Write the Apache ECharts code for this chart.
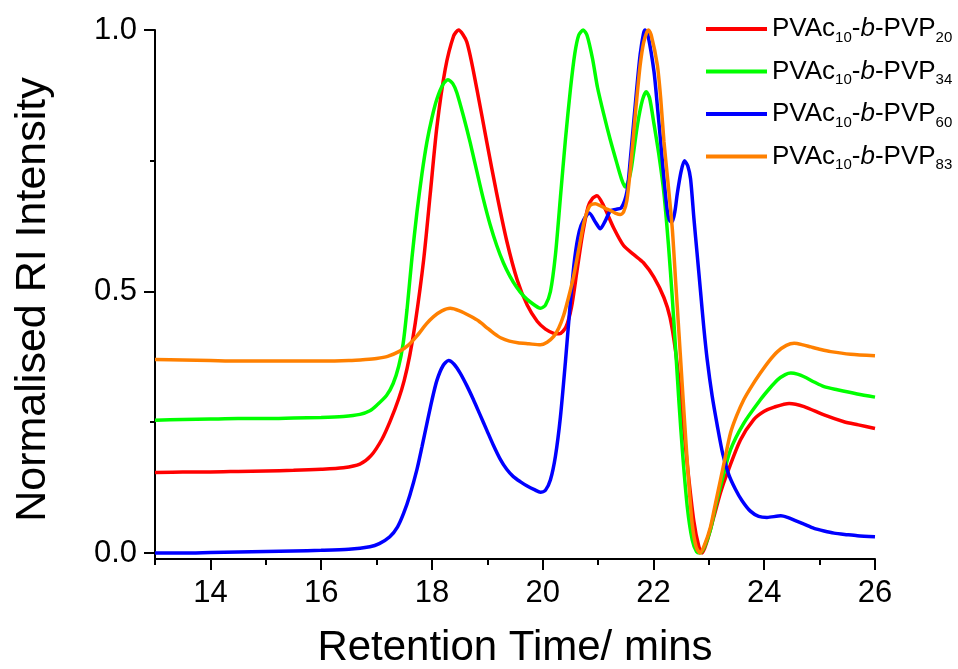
<!DOCTYPE html>
<html>
<head>
<meta charset="utf-8">
<script src="https://cdn.jsdelivr.net/npm/echarts@6/dist/echarts.min.js"></script>
<style>
html,body{margin:0;padding:0;background:#fff;}
#chart{width:958px;height:669px;}
</style>
</head>
<body>
<div id="chart"></div>
<script>
// ---------- data (retention time [min], normalised RI intensity) ----------
const seriesNames = ['PVAc10-b-PVP20', 'PVAc10-b-PVP34', 'PVAc10-b-PVP60', 'PVAc10-b-PVP83'];
const pvpSubscripts = ['20', '34', '60', '83'];
const seriesColors = ['#ff0000', '#00ff00', '#0000ff', '#ff8000'];

const xMajorTicks = [14, 16, 18, 20, 22, 24, 26];
const xMinorTicks = [13, 15, 17, 19, 21, 23, 25];
const yMajorTicks = [0, 0.5, 1.0];
const yMinorTicks = [0.25, 0.75];

const pvp20 = [[13.0,0.154],[13.5,0.155],[14.0,0.155],[14.5,0.156],[15.0,0.157],[15.5,0.158],[16.0,0.160],[16.4,0.163],[16.7,0.170],[16.9,0.186],[17.1,0.218],[17.25,0.253],[17.4,0.295],[17.5,0.33],[17.6,0.378],[17.7,0.44],[17.85,0.56],[17.97,0.687],[18.09,0.815],[18.24,0.925],[18.39,0.988],[18.48,1.0],[18.63,0.977],[18.81,0.888],[18.99,0.786],[19.17,0.687],[19.35,0.597],[19.54,0.522],[19.72,0.474],[19.9,0.443],[20.05,0.428],[20.2,0.42],[20.3,0.419],[20.42,0.432],[20.52,0.47],[20.62,0.54],[20.72,0.61],[20.82,0.662],[20.9,0.678],[20.98,0.683],[21.1,0.664],[21.28,0.622],[21.46,0.588],[21.64,0.571],[21.82,0.555],[22.01,0.527],[22.19,0.488],[22.3,0.45],[22.4,0.385],[22.49,0.30],[22.61,0.17],[22.73,0.06],[22.82,0.012],[22.88,0.0],[22.96,0.02],[23.09,0.069],[23.21,0.115],[23.33,0.152],[23.57,0.216],[23.81,0.255],[24.0,0.271],[24.18,0.279],[24.45,0.286],[24.72,0.28],[25.08,0.264],[25.44,0.251],[25.7,0.245],[26.0,0.238]];

const pvp34 = [[13.0,0.254],[13.5,0.255],[14.0,0.256],[14.5,0.257],[15.0,0.257],[15.5,0.258],[16.0,0.259],[16.4,0.261],[16.7,0.265],[16.88,0.272],[17.0,0.282],[17.18,0.301],[17.3,0.324],[17.4,0.357],[17.48,0.40],[17.55,0.465],[17.64,0.565],[17.73,0.652],[17.82,0.725],[17.91,0.786],[18.0,0.832],[18.09,0.868],[18.2,0.896],[18.29,0.905],[18.38,0.897],[18.45,0.88],[18.57,0.835],[18.69,0.785],[18.81,0.73],[18.93,0.676],[19.05,0.628],[19.17,0.588],[19.29,0.555],[19.41,0.529],[19.53,0.508],[19.65,0.492],[19.8,0.478],[19.96,0.468],[20.05,0.474],[20.14,0.5],[20.23,0.57],[20.32,0.68],[20.41,0.79],[20.5,0.886],[20.58,0.955],[20.65,0.99],[20.73,1.0],[20.8,0.99],[20.9,0.945],[20.99,0.89],[21.1,0.84],[21.22,0.79],[21.34,0.745],[21.43,0.713],[21.49,0.70],[21.55,0.712],[21.6,0.735],[21.71,0.818],[21.8,0.866],[21.87,0.882],[21.93,0.87],[22.01,0.82],[22.1,0.76],[22.19,0.687],[22.27,0.59],[22.34,0.488],[22.4,0.39],[22.46,0.289],[22.53,0.185],[22.61,0.089],[22.7,0.025],[22.78,0.002],[22.84,0.0],[22.92,0.012],[23.03,0.045],[23.12,0.088],[23.21,0.127],[23.39,0.197],[23.63,0.248],[23.93,0.293],[24.1,0.315],[24.24,0.331],[24.38,0.341],[24.48,0.344],[24.6,0.342],[24.72,0.337],[24.9,0.327],[25.08,0.318],[25.32,0.312],[25.68,0.304],[26.0,0.298]];

const pvp60 = [[13.0,0.0],[13.5,0.0],[14.0,0.001],[14.5,0.002],[15.0,0.003],[15.5,0.004],[16.0,0.005],[16.5,0.007],[16.88,0.012],[17.05,0.018],[17.24,0.031],[17.38,0.05],[17.49,0.076],[17.6,0.11],[17.73,0.16],[17.82,0.203],[17.91,0.248],[18.0,0.292],[18.09,0.33],[18.2,0.358],[18.3,0.368],[18.4,0.361],[18.51,0.344],[18.63,0.32],[18.75,0.293],[18.87,0.264],[18.99,0.235],[19.11,0.206],[19.23,0.18],[19.35,0.16],[19.47,0.146],[19.6,0.136],[19.72,0.128],[19.85,0.121],[19.96,0.116],[20.05,0.12],[20.14,0.14],[20.23,0.185],[20.32,0.26],[20.41,0.365],[20.5,0.48],[20.58,0.565],[20.66,0.615],[20.74,0.637],[20.84,0.65],[20.95,0.633],[21.04,0.62],[21.13,0.635],[21.22,0.654],[21.32,0.657],[21.42,0.66],[21.52,0.69],[21.58,0.75],[21.64,0.82],[21.7,0.89],[21.76,0.953],[21.82,0.993],[21.85,1.0],[21.9,0.99],[22.01,0.92],[22.07,0.855],[22.13,0.786],[22.19,0.715],[22.25,0.654],[22.3,0.634],[22.34,0.634],[22.39,0.655],[22.43,0.687],[22.5,0.73],[22.56,0.75],[22.62,0.74],[22.67,0.715],[22.73,0.64],[22.79,0.57],[22.85,0.50],[22.91,0.43],[22.97,0.37],[23.06,0.30],[23.15,0.245],[23.25,0.19],[23.36,0.15],[23.48,0.122],[23.6,0.10],[23.75,0.08],[23.9,0.07],[24.05,0.068],[24.3,0.071],[24.42,0.068],[24.54,0.063],[24.72,0.055],[24.9,0.047],[25.08,0.042],[25.26,0.038],[25.5,0.035],[25.68,0.033],[26.0,0.031]];

const pvp83 = [[13.0,0.370],[13.5,0.369],[14.0,0.368],[14.5,0.367],[15.0,0.367],[15.5,0.367],[16.0,0.367],[16.5,0.368],[16.8,0.37],[17.0,0.372],[17.2,0.376],[17.42,0.386],[17.58,0.398],[17.73,0.415],[17.9,0.438],[18.03,0.452],[18.18,0.463],[18.33,0.468],[18.5,0.463],[18.69,0.453],[18.85,0.443],[19.0,0.43],[19.12,0.42],[19.25,0.411],[19.4,0.405],[19.55,0.402],[19.75,0.40],[19.96,0.398],[20.08,0.403],[20.2,0.414],[20.29,0.43],[20.38,0.455],[20.47,0.49],[20.56,0.53],[20.65,0.58],[20.74,0.63],[20.8,0.652],[20.86,0.665],[20.95,0.668],[21.04,0.664],[21.13,0.659],[21.22,0.655],[21.31,0.65],[21.4,0.647],[21.46,0.652],[21.52,0.674],[21.58,0.73],[21.64,0.80],[21.7,0.87],[21.76,0.933],[21.82,0.975],[21.88,0.996],[21.91,1.0],[21.96,0.99],[22.07,0.933],[22.13,0.87],[22.19,0.786],[22.27,0.70],[22.34,0.62],[22.4,0.52],[22.46,0.421],[22.52,0.32],[22.58,0.222],[22.64,0.13],[22.7,0.055],[22.77,0.012],[22.84,0.0],[22.92,0.015],[23.03,0.05],[23.12,0.095],[23.21,0.14],[23.3,0.185],[23.39,0.229],[23.5,0.262],[23.63,0.293],[23.78,0.32],[23.93,0.344],[24.08,0.366],[24.24,0.385],[24.4,0.397],[24.54,0.401],[24.7,0.398],[24.84,0.394],[25.02,0.389],[25.2,0.385],[25.56,0.38],[26.0,0.377]];

const seriesData = [pvp20, pvp34, pvp60, pvp83];

// ---------- chart ----------
const FONT = 'Liberation Sans, Arial, sans-serif';
const chart = echarts.init(document.getElementById('chart'), null, {renderer: 'canvas'});

const axisLineStyle = {color: '#000', width: 2};

const option = {
  animation: false,
  backgroundColor: '#fff',
  grid: {left: 155, right: 83, top: 30, bottom: 110, containLabel: false, outerBoundsMode: 'none'},
  legend: {
    orient: 'vertical',
    left: 706,
    top: 13,
    padding: 0,
    itemGap: 10.5,
    itemWidth: 61,
    itemHeight: 4,
    icon: 'rect',
    selectedMode: false,
    data: seriesNames,
    formatter: function (name) {
      const k = seriesNames.indexOf(name);
      return '{n|PVAc}{s|10}{n|-}{i|b}{n|-PVP}{s|' + pvpSubscripts[k] + '}';
    },
    textStyle: {
      color: '#000',
      fontFamily: FONT,
      rich: {
        n: {fontSize: 26, fontFamily: FONT, color: '#000', lineHeight: 33, verticalAlign: 'middle'},
        i: {fontSize: 26, fontFamily: FONT, color: '#000', lineHeight: 33, verticalAlign: 'middle', fontStyle: 'italic'},
        s: {fontSize: 15, fontFamily: FONT, color: '#000', lineHeight: 16, verticalAlign: 'middle', padding: [17, 0, 0, 0]}
      }
    }
  },
  xAxis: [
    {
      type: 'value', min: 13, max: 26, position: 'bottom',
      name: 'Retention Time/ mins', nameLocation: 'middle', nameGap: 68,
      nameTextStyle: {fontSize: 42, fontFamily: FONT, color: '#000'},
      axisLine: {show: true, onZero: false, lineStyle: axisLineStyle},
      axisTick: {show: true, length: 11, customValues: xMajorTicks, lineStyle: axisLineStyle},
      axisLabel: {show: true, customValues: xMajorTicks, fontSize: 31, fontFamily: FONT, color: '#000', margin: 19},
      splitLine: {show: false}
    },
    {
      type: 'value', min: 13, max: 26, position: 'bottom',
      axisLine: {show: false, onZero: false},
      axisTick: {show: true, length: 6, customValues: xMinorTicks, lineStyle: axisLineStyle},
      axisLabel: {show: false},
      splitLine: {show: false}
    }
  ],
  yAxis: [
    {
      type: 'value', min: -0.0115, max: 1.0, position: 'left',
      name: 'Normalised RI Intensity', nameLocation: 'middle', nameGap: 100, nameRotate: 90,
      nameTextStyle: {fontSize: 43, fontFamily: FONT, color: '#000', padding: [0, 10, 0, 0]},
      axisLine: {show: true, onZero: false, lineStyle: axisLineStyle},
      axisTick: {show: true, length: 11, customValues: yMajorTicks, lineStyle: axisLineStyle},
      axisLabel: {show: true, customValues: yMajorTicks, fontSize: 31, fontFamily: FONT, color: '#000', margin: 18,
        formatter: function (v) { return Number(v).toFixed(1); }},
      splitLine: {show: false}
    },
    {
      type: 'value', min: -0.0115, max: 1.0, position: 'left',
      axisLine: {show: false, onZero: false},
      axisTick: {show: true, length: 5, customValues: yMinorTicks, lineStyle: axisLineStyle},
      axisLabel: {show: false},
      splitLine: {show: false}
    }
  ],
  series: seriesNames.map(function (name, k) {
    return {
      name: name,
      type: 'line',
      xAxisIndex: 0,
      yAxisIndex: 0,
      data: seriesData[k],
      smooth: 0.25,
      symbol: 'none',
      showSymbol: false,
      clip: false,
      color: seriesColors[k],
      lineStyle: {color: seriesColors[k], width: 3.5},
      emphasis: {disabled: true}
    };
  })
};

chart.setOption(option);
</script>
</body>
</html>
